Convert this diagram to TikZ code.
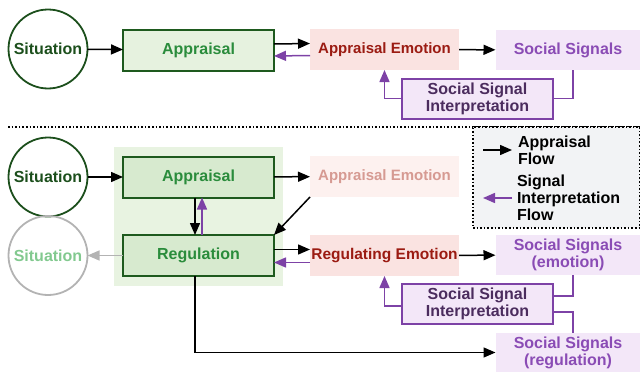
\documentclass[tikz,border=0pt]{standalone}
\usepackage{fontspec}
\setmainfont{Liberation Sans}
\usetikzlibrary{arrows.meta}

\definecolor{sitgreen}{HTML}{1C4F1C}
\definecolor{boxgreen}{HTML}{1E5A1E}
\definecolor{txtgreen}{HTML}{2A8C3C}
\definecolor{paleappr}{HTML}{E6F2DF}
\definecolor{fillappr}{HTML}{D7EACF}
\definecolor{backappr}{HTML}{E8F3E1}
\definecolor{fillemo}{HTML}{FAE3E1}
\definecolor{fadeemo}{HTML}{FDF1EF}
\definecolor{txtemo}{HTML}{9B1B12}
\definecolor{txtfade}{HTML}{D69A92}
\definecolor{fillsig}{HTML}{F3E7F8}
\definecolor{linesig}{HTML}{7D42A6}
\definecolor{txtsig}{HTML}{8A4CB5}
\definecolor{txtinterp}{HTML}{4B2C5E}
\definecolor{ghost}{HTML}{B3B3B3}
\definecolor{ghosttxt}{HTML}{82C98F}
\definecolor{legendbg}{HTML}{F2F3F5}

\tikzstyle{label} = [font = \fontsize{16}{17}\bfseries\selectfont, align = center, inner sep = 0pt, outer sep = 0pt]
\tikzstyle{situation} = [label, circle, draw = sitgreen, line width = 1.8pt, minimum size = 79pt, text = sitgreen]
\tikzstyle{ghostsit} = [situation, draw = ghost, text = ghosttxt]
\tikzstyle{greenbox} = [label, rectangle, draw = boxgreen, line width = 2pt, fill = paleappr, minimum width = 151pt, minimum height = 41pt, text = txtgreen]
\tikzstyle{emobox} = [label, rectangle, fill = fillemo, minimum width = 149pt, minimum height = 41pt, text = txtemo]
\tikzstyle{sigbox} = [label, rectangle, fill = fillsig, minimum width = 145pt, minimum height = 40pt, text = txtsig]
\tikzstyle{interpbox} = [label, rectangle, draw = linesig, line width = 2pt, fill = fillsig, minimum width = 151pt, minimum height = 40pt, text = txtinterp]
\tikzstyle{flow} = [->, >={Triangle[length=12pt,width=10pt]}, line width = 1.5pt]
\tikzstyle{backflow} = [flow, draw = linesig]
\tikzstyle{interpline} = [line width = 1.5pt, draw = linesig]

\begin{document}
\begin{tikzpicture}[x = 1pt, y = -1pt]
    \useasboundingbox (0, 0) rectangle (640, 372);

    \node (sitA) at (48, 49) [situation] {Situation};
    \node (apprA) at (198.5, 50) [greenbox] {Appraisal};
    \node (emoA) at (384.5, 49.5) [emobox] {\fontsize{15}{17}\selectfont Appraisal Emotion};
    \node (sigA) at (568, 50) [sigbox] {Social Signals};
    \node (interpA) at (477.5, 98.5) [interpbox] {Social Signal\\Interpretation};
    \draw [flow] (sitA) -- (apprA);
    \draw [flow] ([yshift = 6pt] apprA.east) -- ([yshift = 6pt] emoA.west);
    \draw [backflow] ([yshift = -6pt] emoA.west) -- ([yshift = -6pt] apprA.east);
    \draw [flow] (emoA) -- (sigA);
    \draw [interpline] ([xshift = 5pt] sigA.south) |- (interpA.east);
    \draw [backflow] (interpA.west) -| (emoA.south);

    \draw [line width = 1.6pt, dotted] (8, 127) -- (640, 127);

    \node (legend) at (556.5, 177.5) [rectangle, draw, dotted, line width = 1.6pt, fill = legendbg, minimum width = 167pt, minimum height = 101pt] {};
    \coordinate (keyA) at (483, 150);
    \coordinate (keyB) at (512, 150);
    \coordinate (keyC) at (512, 198);
    \coordinate (keyD) at (483, 198);
    \node (keyApprText) at (518, 150) [label, anchor = west, align = left] {Appraisal\\Flow};
    \node (keySigText) at (517, 198) [label, anchor = west, align = left] {Signal\\Interpretation\\Flow};
    \draw [flow] (keyA) -- (keyB);
    \draw [backflow] (keyC) -- (keyD);

    \fill [backappr] (114, 147) rectangle (283, 286);
    \node (sitB) at (48, 177) [situation] {Situation};
    \node (sitC) at (48, 255.5) [ghostsit] {Situation};
    \node (apprB) at (198.5, 177) [greenbox, fill = fillappr] {Appraisal};
    \node (regul) at (198.5, 255.5) [greenbox, fill = fillappr] {Regulation};
    \node (emoB) at (384.5, 176.5) [emobox, fill = fadeemo, text = txtfade] {\fontsize{15}{17}\selectfont Appraisal Emotion};
    \node (emoR) at (384.5, 255.5) [emobox] {\fontsize{15.5}{17}\selectfont Regulating Emotion};
    \node (sigE) at (568, 255) [sigbox] {Social Signals\\(emotion)};
    \node (interpB) at (477.5, 303.5) [interpbox] {Social Signal\\Interpretation};
    \node (sigR) at (568, 352.5) [sigbox] {Social Signals\\(regulation)};
    \draw [flow] (sitB) -- (apprB);
    \draw [flow] (apprB) -- (emoB);
    \draw [flow] (emoB.south west) -- (regul.north east);
    \draw [flow] ([xshift = -3.5pt] apprB.south) -- ([xshift = -3.5pt] regul.north);
    \draw [backflow] ([xshift = 3.5pt] regul.north) -- ([xshift = 3.5pt] apprB.south);
    \draw [flow, draw = ghost] (regul) -- (sitC);
    \draw [flow] ([yshift = 6pt] regul.east) -- ([yshift = 6pt] emoR.west);
    \draw [backflow] ([yshift = -7pt] emoR.west) -- ([yshift = -7pt] regul.east);
    \draw [flow] (emoR) -- (sigE);
    \draw [interpline] ([xshift = 5pt] sigE.south) |- ([yshift = 7.5pt] interpB.east);
    \draw [interpline] ([xshift = 5pt] sigR.north) |- ([yshift = -8.5pt] interpB.east);
    \draw [backflow] ([yshift = -2.5pt] interpB.west) -| (emoR.south);
    \draw [flow] ([xshift = -3.5pt] regul.south) |- (sigR.west);
\end{tikzpicture}
\end{document}
